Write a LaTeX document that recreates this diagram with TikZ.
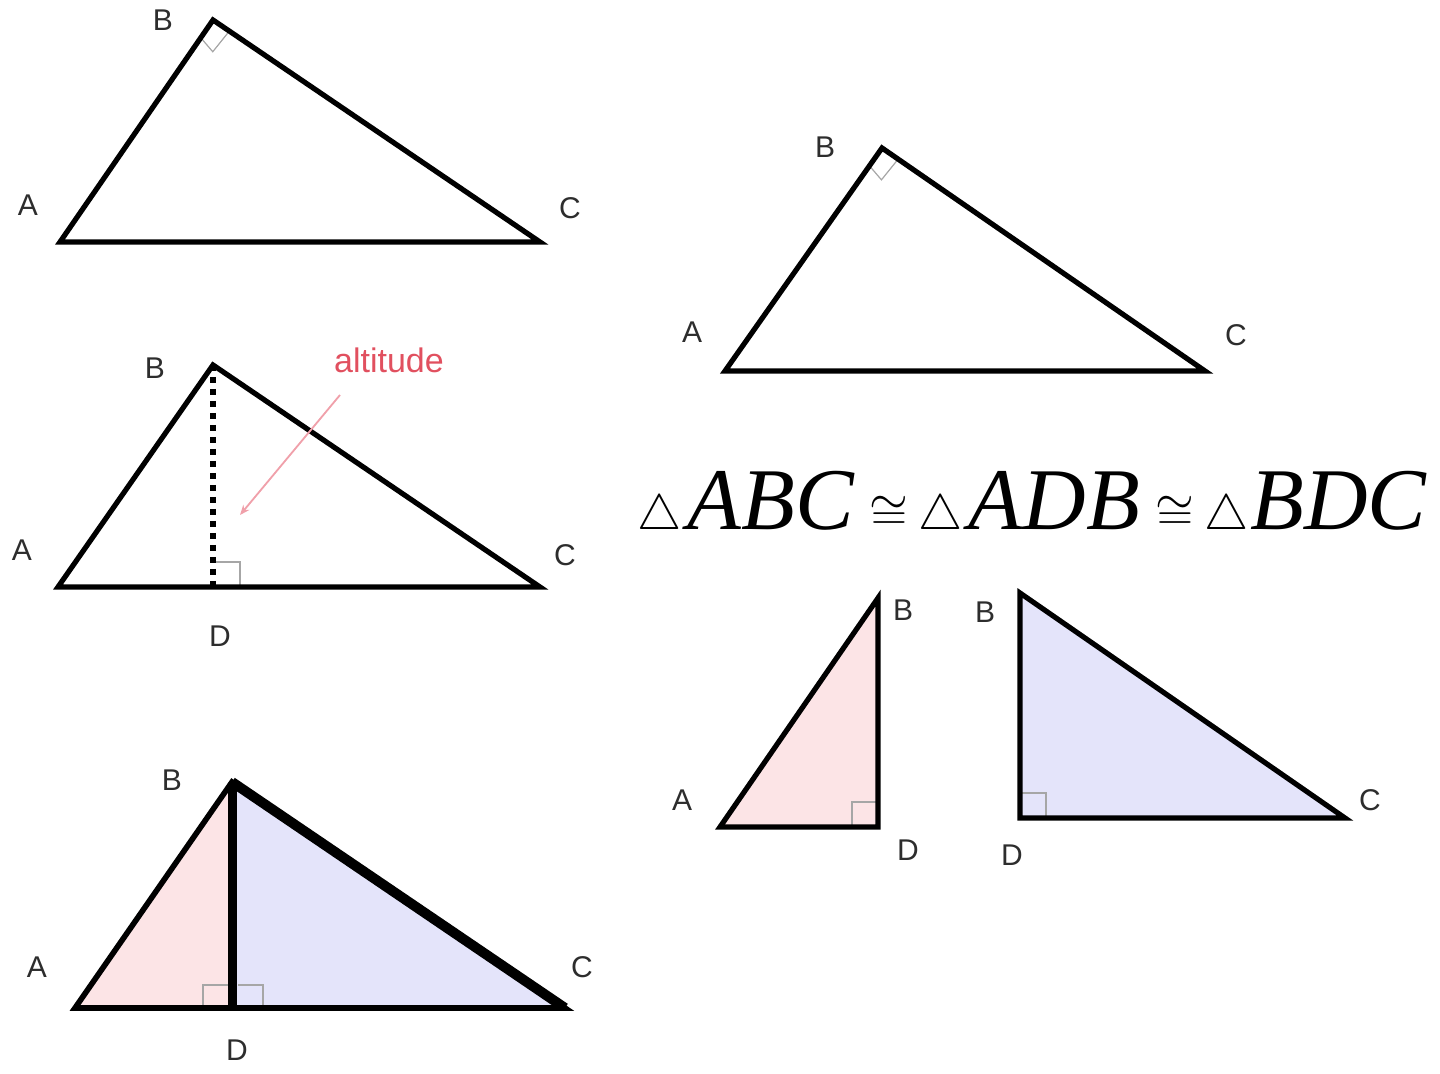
\documentclass[tikz,border=0pt]{standalone}
\usepackage{fontspec}
\setmainfont{Liberation Sans}
\newfontfamily\tnr{Liberation Serif}
\usetikzlibrary{arrows.meta,calc}
\definecolor{pinkfill}{RGB}{252,228,230}
\definecolor{bluefill}{RGB}{228,228,250}
\definecolor{labgrey}{RGB}{45,45,45}
\definecolor{altred}{RGB}{225,80,95}
\definecolor{altline}{RGB}{240,160,170}
\begin{document}
\begin{tikzpicture}[x=0.5pt,y=-0.5pt,
  tri/.style={line width=2.6pt,line join=miter},
  lab/.style={text=labgrey,font=\fontsize{15}{15}\selectfont,inner sep=0pt},
  ra/.style={draw=black!35,line width=0.6pt}]
\useasboundingbox (0,0) rectangle (1440,1074);
% Triangle 1
\coordinate (A1) at (60,242); \coordinate (B1) at (213,20); \coordinate (C1) at (540,242);
\draw[ra] ($(B1)!0.08!(A1)$) -- ++(12,14) -- ($(B1)!0.05!(C1)$);
\draw[tri] (A1) -- (B1) -- (C1) -- cycle;
\node[lab] (lA1) at (28,205) {A};
\node[lab] (lB1) at (163,20) {B};
\node[lab] (lC1) at (570,208) {C};
% Triangle 2 (top right)
\coordinate (A2) at (725,371); \coordinate (B2) at (882,148); \coordinate (C2) at (1205,371);
\draw[ra] ($(B2)!0.08!(A2)$) -- ++(12,14) -- ($(B2)!0.05!(C2)$);
\draw[tri] (A2) -- (B2) -- (C2) -- cycle;
\node[lab] (lA2) at (692,332) {A};
\node[lab] (lB2) at (825,147) {B};
\node[lab] (lC2) at (1236,335) {C};
% Triangle 3 with altitude
\coordinate (A3) at (58,587); \coordinate (B3) at (213,365); \coordinate (C3) at (540,587); \coordinate (D3) at (213,587);
\draw[ra] (213,562) -- (240,562) -- (240,587);
\draw[line width=3pt,dash pattern=on 3pt off 3pt] (B3) -- (D3);
\draw[tri] (A3) -- (B3) -- (C3) -- cycle;
\node[lab] (lA3) at (22,550) {A};
\node[lab] (lB3) at (155,368) {B};
\node[lab] (lC3) at (565,555) {C};
\node[lab] (lD3) at (220,636) {D};
\node[text=altred,font=\fontsize{17}{17}\selectfont,inner sep=0pt] (alt) at (389,360) {altitude};
\coordinate (altend) at (240,515);
\draw[altline,line width=0.9pt,-{Stealth[length=5pt,width=4pt]}] (340,395) -- (altend);
% Triangle 4 split
\coordinate (A4) at (75,1008); \coordinate (B4) at (232,782); \coordinate (C4) at (565,1008); \coordinate (D4) at (232,1008);
\fill[pinkfill] (A4) -- (B4) -- (D4) -- cycle;
\fill[bluefill] (D4) -- (B4) -- (C4) -- cycle;
\draw[ra] (203,1008) -- (203,985) -- (228,985);
\draw[ra] (238,985) -- (263,985) -- (263,1008);
\draw[line width=2.8pt,line join=miter] (A4) -- (B4) -- (C4) -- cycle;
\begin{scope}
  \clip (225,760) rectangle (600,1010);
  \draw[line width=5pt] (B4) -- (C4);
\end{scope}
\draw[line width=4.5pt,shorten <=1pt] (B4) -- (D4);
\node[lab] (lA4) at (37,967) {A};
\node[lab] (lB4) at (172,780) {B};
\node[lab] (lC4) at (582,967) {C};
\node[lab] (lD4) at (237,1050) {D};
% Formula
\node[anchor=base,inner sep=0pt] (formula) at (1032,530)
  {\tnr\itshape\fontsize{44}{48}\selectfont
   $\scriptstyle\triangle$\kern3pt ABC\kern8pt$\cong$\kern5pt$\scriptstyle\triangle$\kern3pt ADB\kern8pt$\cong$\kern5pt$\scriptstyle\triangle$\kern1pt BDC};
% Small triangle ADB
\coordinate (A5) at (720,827); \coordinate (B5) at (878,598); \coordinate (D5) at (878,827);
\fill[pinkfill] (A5) -- (B5) -- (D5) -- cycle;
\draw[ra] (852,827) -- (852,802) -- (878,802);
\draw[tri] (A5) -- (B5) -- (D5) -- cycle;
\node[lab] (lA5) at (682,800) {A};
\node[lab] (lB5) at (903,610) {B};
\node[lab] (lD5) at (908,850) {D};
% Triangle BDC
\coordinate (B6) at (1020,593); \coordinate (D6) at (1020,818); \coordinate (C6) at (1345,818);
\fill[bluefill] (B6) -- (D6) -- (C6) -- cycle;
\draw[ra] (1020,793) -- (1046,793) -- (1046,818);
\draw[tri] (B6) -- (D6) -- (C6) -- cycle;
\node[lab] (lB6) at (985,612) {B};
\node[lab] (lD6) at (1012,855) {D};
\node[lab] (lC6) at (1370,800) {C};
\end{tikzpicture}
\end{document}
